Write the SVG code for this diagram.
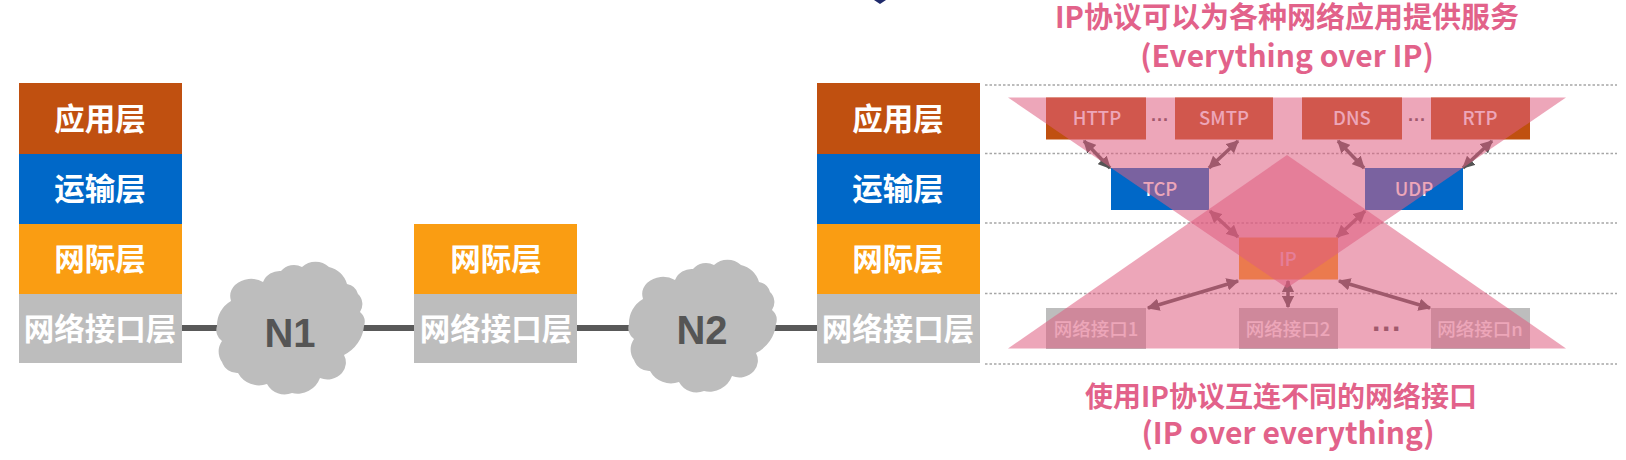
<svg xmlns="http://www.w3.org/2000/svg" xmlns:xlink="http://www.w3.org/1999/xlink" width="1626" height="460" viewBox="0 0 1626 460">
<style>
text{font-family:"Noto Sans CJK SC","Noto Sans",sans-serif;text-anchor:middle}
.lbl{font-size:30.500px;font-weight:700;fill:#fff}
.sm{font-size:18.500px;font-weight:500;fill:#fff}
.cap{font-size:29px;font-weight:700;fill:#e2628a}
.en{font-size:30px}
.net{font-family:"Liberation Sans",sans-serif;font-size:40px;font-weight:700;fill:#555}
.dots{font-family:"Liberation Sans",sans-serif;font-weight:700;fill:#555}
.app{fill:#c05010}.trn{fill:#0068c8}.ipl{fill:#fa9d12}.nif{fill:#bdbdbd}
.link{stroke:#595959;stroke-width:6;fill:none}
.dash{stroke:#a6a6a6;stroke-width:1.5;stroke-dasharray:2.5 2;fill:none}
.arr{stroke:#555;stroke-width:3.500;fill:none;marker-start:url(#h);marker-end:url(#h)}
.tri{fill:#de5d80;fill-opacity:.55}
</style>
<defs>
<marker id="h" viewBox="0 0 10 10" refX="9" refY="5" markerWidth="3.600" markerHeight="3.600" orient="auto-start-reverse"><path d="M0 0L10 5L0 10z" fill="#555"/></marker>
<path id="cloud" fill="#bdbdbd" d="M-73-4A28 28 0 0 1-59-29A16 16 0 0 1-55-45A24 24 0 0 1-27-48A18 18 0 0 1-9-59A17 17 0 0 1 12-63A20 20 0 0 1 39-63A24 24 0 0 1 57-46A14 14 0 0 1 68-36A14 14 0 0 1 70-18A13 13 0 0 1 74-4A36 36 0 0 1 54 25A16 16 0 0 1 52 43A20 20 0 0 1 30 48A24 24 0 0 1 2 63A20 20 0 0 1-23 54A24 24 0 0 1-52 43A16 16 0 0 1-68 32A18 18 0 0 1-68 11A13 13 0 0 1-73-4z"/>
</defs>
<rect width="1626" height="460" fill="#fff"/>
<path d="M874 0h12l-6 4z" fill="#1f2a6b"/>
<g id="guides">
<path class="dash" d="M985 85H1617M985 153.500H1617M985 223H1617M985 293.500H1617M985 364H1617"/>
</g>
<g id="connectors">
<path class="link" d="M182 328H230M358 328H414M577 328H635M770 328H817"/>
<path class="arr" d="M1084 141L1110 168"/>
<path class="arr" d="M1238 141L1209 168"/>
<path class="arr" d="M1338 141L1364 168"/>
<path class="arr" d="M1492 141L1463 168"/>
<path class="arr" d="M1210 211L1238 237"/>
<path class="arr" d="M1365 211L1337 237"/>
<path class="arr" d="M1238 281L1148 308"/>
<path class="arr" d="M1288 281V307"/>
<path class="arr" d="M1339 281L1430 308"/>
</g>
<g id="host-a">
<rect class="app" x="19" y="83" width="163" height="71"/><text class="lbl" x="100" y="130">应用层</text>
<rect class="trn" x="19" y="154" width="163" height="70"/><text class="lbl" x="100" y="200">运输层</text>
<rect class="ipl" x="19" y="224" width="163" height="70"/><text class="lbl" x="100" y="270">网际层</text>
<rect class="nif" x="19" y="294" width="163" height="69"/><text class="lbl" x="100" y="340">网络接口层</text>
</g>
<g id="n1"><use xlink:href="#cloud" href="#cloud" x="290" y="330"/><text class="net" x="290" y="347">N1</text></g>
<g id="router">
<rect class="ipl" x="414" y="224" width="163" height="70"/><text class="lbl" x="496" y="270">网际层</text>
<rect class="nif" x="414" y="294" width="163" height="69"/><text class="lbl" x="496" y="340">网络接口层</text>
</g>
<g id="n2"><use xlink:href="#cloud" href="#cloud" x="702" y="328"/><text class="net" x="702" y="344">N2</text></g>
<g id="host-b">
<rect class="app" x="817" y="83" width="163" height="71"/><text class="lbl" x="898" y="130">应用层</text>
<rect class="trn" x="817" y="154" width="163" height="70"/><text class="lbl" x="898" y="200">运输层</text>
<rect class="ipl" x="817" y="224" width="163" height="70"/><text class="lbl" x="898" y="270">网际层</text>
<rect class="nif" x="817" y="294" width="163" height="69"/><text class="lbl" x="898" y="340">网络接口层</text>
</g>
<g id="http"><rect class="app" x="1046" y="97.500" width="100" height="42"/><text class="sm" x="1097" y="125">HTTP</text></g>
<g id="smtp"><rect class="app" x="1175" y="97.500" width="98" height="42"/><text class="sm" x="1224" y="125">SMTP</text></g>
<g id="dns"><rect class="app" x="1302" y="97.500" width="100" height="42"/><text class="sm" x="1352" y="125">DNS</text></g>
<g id="rtp"><rect class="app" x="1431" y="97.500" width="99" height="42"/><text class="sm" x="1480" y="125">RTP</text></g>
<g id="tcp"><rect class="trn" x="1111" y="168" width="98" height="42"/><text class="sm" x="1160" y="196">TCP</text></g>
<g id="udp"><rect class="trn" x="1365" y="168" width="98" height="42"/><text class="sm" x="1414" y="196">UDP</text></g>
<g id="ip"><rect class="ipl" x="1239" y="237.500" width="99" height="42"/><text class="sm" x="1288" y="266">IP</text></g>
<g id="if1"><rect class="nif" x="1046" y="308" width="100" height="41"/><text class="sm" x="1096" y="336">网络接口1</text></g>
<g id="if2"><rect class="nif" x="1239" y="308" width="99" height="41"/><text class="sm" x="1288" y="336">网络接口2</text></g>
<g id="ifn"><rect class="nif" x="1431" y="308" width="99" height="41"/><text class="sm" x="1480" y="336">网络接口n</text></g>
<g id="ellipses">
<text class="dots" x="1160" y="126" font-size="18">···</text>
<text class="dots" x="1417" y="126" font-size="18">···</text>
<text class="dots" x="1387" y="339" font-size="30">···</text>
</g>
<g id="overlays">
<polygon class="tri" points="1008,97.500 1566,97.500 1287,288"/>
<polygon class="tri" points="1008,348.500 1566,348.500 1287,155"/>
</g>
<g id="captions">
<text class="cap" x="1287" y="28">IP协议可以为各种网络应用提供服务</text>
<text class="cap en" x="1287" y="67">(Everything over IP)</text>
<text class="cap" x="1281" y="407" style="font-size:28px">使用IP协议互连不同的网络接口</text>
<text class="cap en" x="1288" y="444">(IP over everything)</text>
</g>
</svg>
